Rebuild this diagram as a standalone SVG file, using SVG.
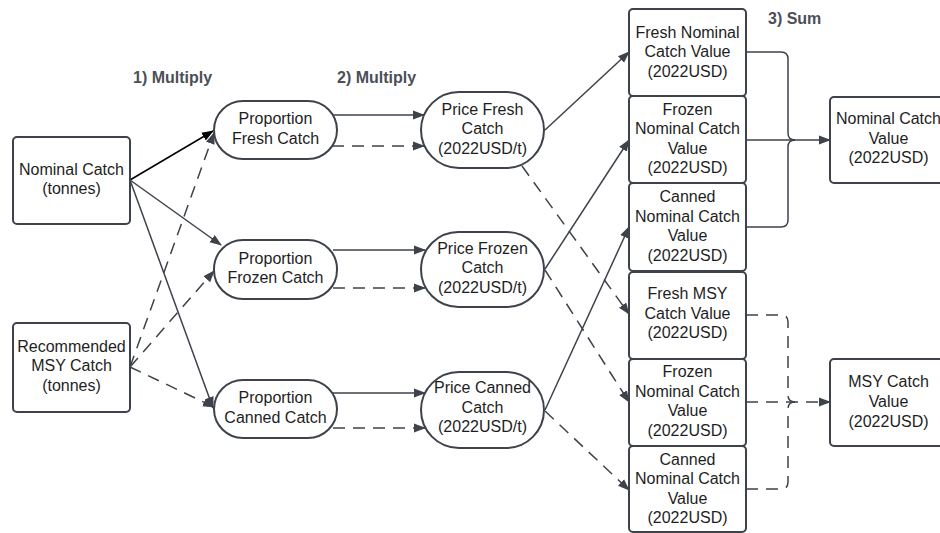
<svg xmlns="http://www.w3.org/2000/svg" width="940" height="533" viewBox="0 0 940 533">
<defs>
<style>
.box{fill:#fff;stroke:#3d424b;stroke-width:2}
.t{font-family:"Liberation Sans",Arial,sans-serif;font-size:16px;fill:#1e1e1e;text-anchor:middle}
.h{font-family:"Liberation Sans",Arial,sans-serif;font-size:16px;font-weight:bold;fill:#4b4f57}
.c{fill:none;stroke:#3d424b;stroke-width:1.5;marker-end:url(#ah)}
.d{stroke-dasharray:12 8}
.n{fill:none;stroke:#3d424b;stroke-width:1.5}
</style>
<marker id="ah" viewBox="0 0 12 10" refX="11" refY="5" markerWidth="12" markerHeight="10" markerUnits="userSpaceOnUse" orient="auto"><path d="M0,0.5 L12,5 L0,9.5 z" fill="#3d424b"/></marker>
<marker id="ahk" viewBox="0 0 12 10" refX="11" refY="5" markerWidth="12" markerHeight="10" markerUnits="userSpaceOnUse" orient="auto"><path d="M0,0.5 L12,5 L0,9.5 z" fill="#000"/></marker>
</defs>
<rect width="940" height="533" fill="#fff"/>

<g id="labels">
<text class="h" x="133" y="83">1) Multiply</text>
<text class="h" x="337" y="83">2) Multiply</text>
<text class="h" x="768" y="24">3) Sum</text>
</g>

<g id="connectors">
<path d="M130,180 L213,131" style="fill:none;stroke:#000;stroke-width:1.5;marker-end:url(#ahk)"/>
<path class="c" d="M130,180 L221,245"/>
<path class="c" d="M130,180 L213,408"/>
<path class="c d" d="M130,367 L214,133"/>
<path class="c d" d="M130,367 L214,271"/>
<path class="c d" d="M130,367 L214,407"/>
<path class="c" d="M333,115 H424"/>
<path class="c d" d="M332,146 H424"/>
<path class="c" d="M333,250 H425"/>
<path class="c d" d="M333,288 H425"/>
<path class="c" d="M333,393 H425"/>
<path class="c d" d="M333,428 H425"/>
<path class="c" d="M545,130 L629,52"/>
<path class="c" d="M545,269 L629,140"/>
<path class="c" d="M545,410 L629,227"/>
<path class="c d" d="M522,166 L629,314"/>
<path class="c d" d="M545,270 L629,402"/>
<path class="c d" d="M545,411 L629,490"/>
<path class="n" d="M746,52 H781 Q788,52 788,59 V133 Q788,140 795,140"/>
<path class="n" d="M746,227 H781 Q788,227 788,220 V147 Q788,140 795,140"/>
<path class="c" d="M746,140 H830"/>
<path class="n d" d="M746,315 H781 Q788,315 788,322 V395 Q788,402 795,402"/>
<path class="n d" d="M746,489 H781 Q788,489 788,482 V409 Q788,402 795,402"/>
<path class="c d" d="M746,402 H830"/>
</g>

<g id="nominal"><rect class="box" x="13" y="137" width="117" height="87" rx="4"/>
<text class="t" x="71.5" y="174.7"><tspan x="71.5">Nominal Catch</tspan><tspan x="71.5" dy="19.6">(tonnes)</tspan></text></g>
<g id="msy"><rect class="box" x="13" y="323" width="117" height="89" rx="4"/>
<text class="t" x="71.5" y="351.8"><tspan x="71.5">Recommended</tspan><tspan x="71.5" dy="19.6">MSY Catch</tspan><tspan x="71.5" dy="19.6">(tonnes)</tspan></text></g>

<g id="propFresh"><rect class="box" x="214" y="101" width="123" height="58" rx="29"/>
<text class="t" x="275.5" y="124.2"><tspan x="275.5">Proportion</tspan><tspan x="275.5" dy="19.6">Fresh Catch</tspan></text></g>
<g id="propFrozen"><rect class="box" x="214" y="240" width="123" height="59" rx="29"/>
<text class="t" x="275.5" y="263.5"><tspan x="275.5">Proportion</tspan><tspan x="275.5" dy="19.6">Frozen Catch</tspan></text></g>
<g id="propCanned"><rect class="box" x="214" y="380" width="123" height="58" rx="29"/>
<text class="t" x="275.5" y="403.3"><tspan x="275.5">Proportion</tspan><tspan x="275.5" dy="19.6">Canned Catch</tspan></text></g>

<g id="priceFresh"><rect class="box" x="421" y="92" width="123" height="76" rx="38"/>
<text class="t" x="482.5" y="114.5"><tspan x="482.5">Price Fresh</tspan><tspan x="482.5" dy="19.6">Catch</tspan><tspan x="482.5" dy="19.6">(2022USD/t)</tspan></text></g>
<g id="priceFrozen"><rect class="box" x="421" y="232" width="123" height="75" rx="37.5"/>
<text class="t" x="482.5" y="253.5"><tspan x="482.5">Price Frozen</tspan><tspan x="482.5" dy="19.6">Catch</tspan><tspan x="482.5" dy="19.6">(2022USD/t)</tspan></text></g>
<g id="priceCanned"><rect class="box" x="421" y="372" width="123" height="76" rx="38"/>
<text class="t" x="482.5" y="393.2"><tspan x="482.5">Price Canned</tspan><tspan x="482.5" dy="19.6">Catch</tspan><tspan x="482.5" dy="19.6">(2022USD/t)</tspan></text></g>

<g id="freshNom"><rect class="box" x="629" y="9" width="117" height="87" rx="4"/>
<text class="t" x="687.5" y="37.5"><tspan x="687.5">Fresh Nominal</tspan><tspan x="687.5" dy="19.6">Catch Value</tspan><tspan x="687.5" dy="19.6">(2022USD)</tspan></text></g>
<g id="frozenNom"><rect class="box" x="629" y="96" width="117" height="87" rx="4"/>
<text class="t" x="687.5" y="114.5"><tspan x="687.5">Frozen</tspan><tspan x="687.5" dy="19.6">Nominal Catch</tspan><tspan x="687.5" dy="19.6">Value</tspan><tspan x="687.5" dy="19.6">(2022USD)</tspan></text></g>
<g id="cannedNom"><rect class="box" x="629" y="183" width="117" height="88" rx="4"/>
<text class="t" x="687.5" y="202"><tspan x="687.5">Canned</tspan><tspan x="687.5" dy="19.6">Nominal Catch</tspan><tspan x="687.5" dy="19.6">Value</tspan><tspan x="687.5" dy="19.6">(2022USD)</tspan></text></g>
<g id="freshMSY"><rect class="box" x="629" y="272" width="117" height="87" rx="4"/>
<text class="t" x="687.5" y="299"><tspan x="687.5">Fresh MSY</tspan><tspan x="687.5" dy="19.6">Catch Value</tspan><tspan x="687.5" dy="19.6">(2022USD)</tspan></text></g>
<g id="frozenMSY"><rect class="box" x="629" y="359" width="117" height="87" rx="4"/>
<text class="t" x="687.5" y="377"><tspan x="687.5">Frozen</tspan><tspan x="687.5" dy="19.6">Nominal Catch</tspan><tspan x="687.5" dy="19.6">Value</tspan><tspan x="687.5" dy="19.6">(2022USD)</tspan></text></g>
<g id="cannedMSY"><rect class="box" x="629" y="446" width="117" height="86" rx="4"/>
<text class="t" x="687.5" y="464.5"><tspan x="687.5">Canned</tspan><tspan x="687.5" dy="19.6">Nominal Catch</tspan><tspan x="687.5" dy="19.6">Value</tspan><tspan x="687.5" dy="19.6">(2022USD)</tspan></text></g>

<g id="nomValue"><rect class="box" x="830" y="97" width="117" height="86" rx="4"/>
<text class="t" x="888.5" y="124"><tspan x="888.5">Nominal Catch</tspan><tspan x="888.5" dy="19.6">Value</tspan><tspan x="888.5" dy="19.6">(2022USD)</tspan></text></g>
<g id="msyValue"><rect class="box" x="830" y="359" width="117" height="87" rx="4"/>
<text class="t" x="888.5" y="387.3"><tspan x="888.5">MSY Catch</tspan><tspan x="888.5" dy="19.6">Value</tspan><tspan x="888.5" dy="19.6">(2022USD)</tspan></text></g>
</svg>
